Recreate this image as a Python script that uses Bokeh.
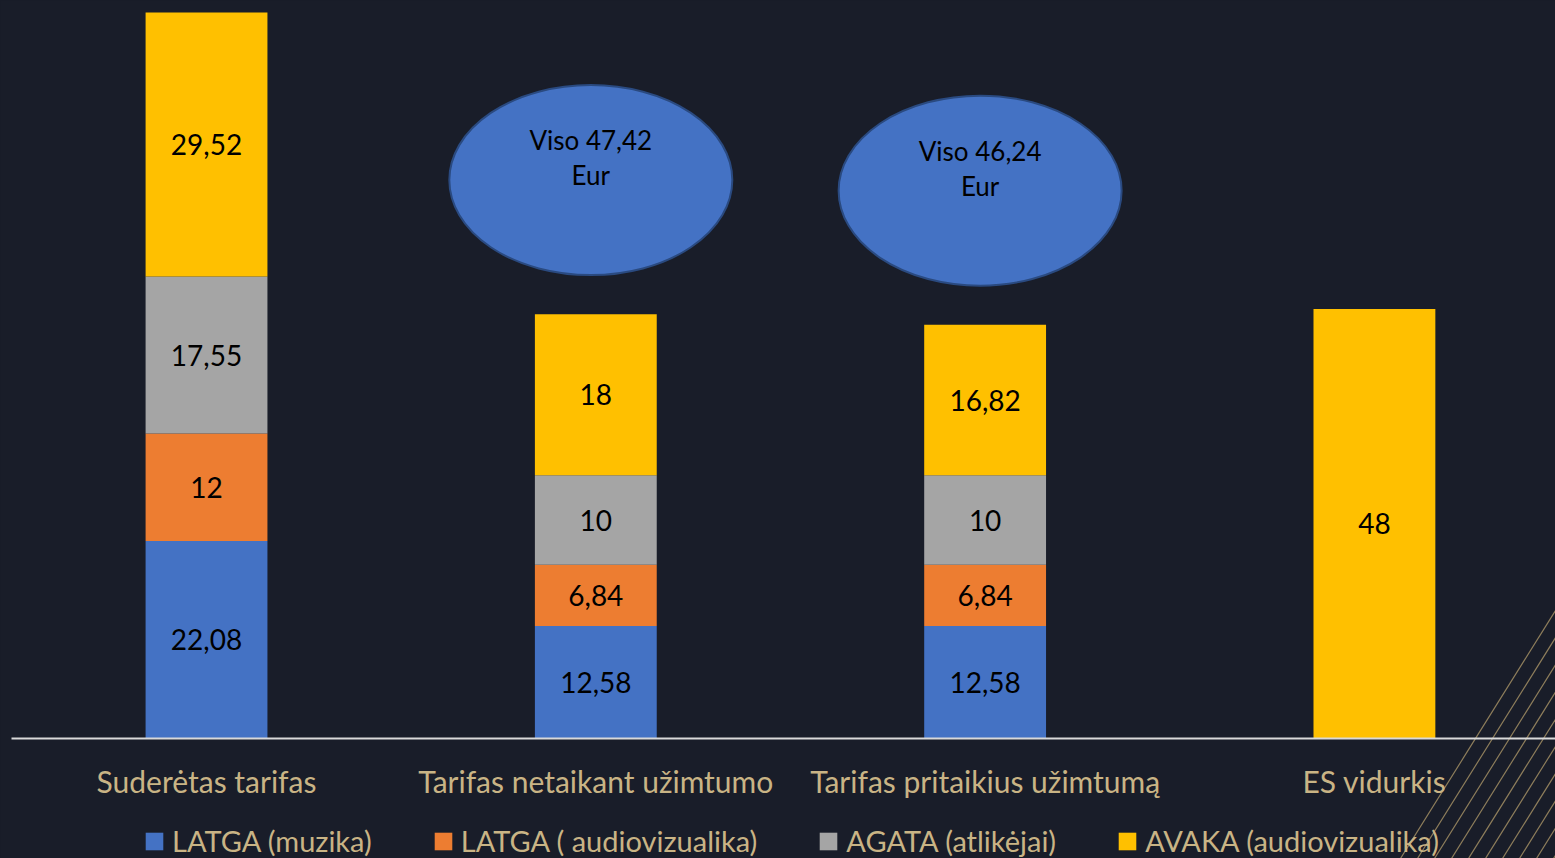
from bokeh.plotting import figure
from bokeh.models import Range1d, ColumnDataSource, Legend, LegendItem
from bokeh.core.properties import value
from bokeh.embed import file_html
from bokeh.resources import INLINE

# ---------------- data ----------------
categories = ["Suderėtas tarifas", "Tarifas netaikant užimtumo",
              "Tarifas pritaikius užimtumą", "ES vidurkis"]
series = ["LATGA (muzika)", "LATGA ( audiovizualika)",
          "AGATA (atlikėjai)", "AVAKA (audiovizualika)"]
latga_muzika = [22.08, 12.58, 12.58, 0]
latga_audio = [12, 6.84, 6.84, 0]
agata = [17.55, 10, 10, 0]
avaka = [29.52, 18, 16.82, 48]
bubble_categories = ["Tarifas netaikant užimtumo", "Tarifas pritaikius užimtumą"]
bubble_prefix = "Viso"
bubble_unit = "Eur"

# ---------------- style ----------------
colors = ["#4472C4", "#ED7D31", "#A5A5A5", "#FFC000"]
BG = "#191d29"
TAN = "#c9b485"
FONT = "Lato"
W, H = 1555, 858
X0 = -0.5292
X1 = X0 + W / 389.3
Y0 = -(H - 738) / 8.946
Y1 = 738 / 8.946
X_PER_PX = (X1 - X0) / W
Y_PER_PX = (Y1 - Y0) / H


def dx(ix):  # page px -> data x
    return X0 + ix * X_PER_PX


def dy(iy):
    return Y1 - iy * Y_PER_PX


p = figure(width=W, height=H, x_range=Range1d(X0, X1), y_range=Range1d(Y0, Y1),
           output_backend="svg", toolbar_location=None, min_border=0,
           x_axis_location=None, y_axis_location=None,
           background_fill_color=BG, border_fill_color=BG, outline_line_color=None)
p.grid.visible = False

# decorative diagonal lines (bottom-right)
xs_l, ys_l = [], []
for k in range(10):
    xb = 1400 + 17 * k
    xs_l.append([dx(xb), dx(xb + 250)])
    ys_l.append([dy(858), dy(858 - 250 * 1.6)])
p.multi_line(xs=xs_l, ys=ys_l, line_color="#8f7f5c", line_width=1.2)

xs = list(range(len(categories)))
keys = ["s0", "s1", "s2", "s3"]
vals = [latga_muzika, latga_audio, agata, avaka]
src = ColumnDataSource(dict(x=xs, s0=latga_muzika, s1=latga_audio, s2=agata, s3=avaka))
rs = p.vbar_stack(keys, x="x", width=0.313, fill_color=colors, line_color=None, source=src)

# baseline
p.segment(x0=[dx(11)], y0=[0], x1=[X1], y1=[0], line_color="#d9d9d9", line_width=2)

# segment labels
lx, ly, lt = [], [], []
for i in xs:
    bottom = 0
    for s in vals:
        v = s[i]
        if v:
            lx.append(i)
            ly.append(bottom + v / 2)
            lt.append(f"{v:g}".replace(".", ","))
        bottom += v
p.text(x=lx, y=ly, text=lt, text_align="center", text_baseline="middle",
       text_font=value(FONT), text_font_size="28px", text_color="black")

# category labels
p.text(x=xs, y=[-42 * Y_PER_PX] * len(xs), text=categories, text_align="center",
       text_baseline="middle", text_font=value(FONT), text_font_size="30px",
       text_color=TAN)

# total bubbles
bx, by, t1, t2 = [], [], [], []
for c in bubble_categories:
    i = categories.index(c)
    total = round(sum(s[i] for s in vals), 2)
    bx.append(i - 5 * X_PER_PX)
    by.append(total + 15)
    t1.append(f"{bubble_prefix} {total:.2f}".replace(".", ","))
    t2.append(bubble_unit)
p.ellipse(x=bx, y=by, width=283, height=190, width_units="screen", height_units="screen",
          fill_color="#4472C4", line_color="#2a4a80", line_width=2)
p.text(x=bx, y=[y + 40 * Y_PER_PX for y in by], text=t1, text_align="center",
       text_baseline="middle", text_font=value(FONT), text_font_size="26px", text_color="black")
p.text(x=bx, y=[y + 5 * Y_PER_PX for y in by], text=t2, text_align="center",
       text_baseline="middle", text_font=value(FONT), text_font_size="26px", text_color="black")

legend = Legend(items=[LegendItem(label=s, renderers=[r]) for s, r in zip(series, rs)],
                orientation="horizontal", location=(143, 0),
                background_fill_alpha=0, border_line_color=None,
                label_text_color=TAN, label_text_font=FONT, label_text_font_size="29px",
                glyph_width=22, glyph_height=22, label_standoff=7, spacing=60,
                padding=0, margin=0)
p.add_layout(legend)

html = file_html(p, INLINE, title="chart")
html = html.replace("</head>", f"<style>body{{background:{BG};margin:0;}}</style></head>", 1)
open("out.html", "w").write(html)
